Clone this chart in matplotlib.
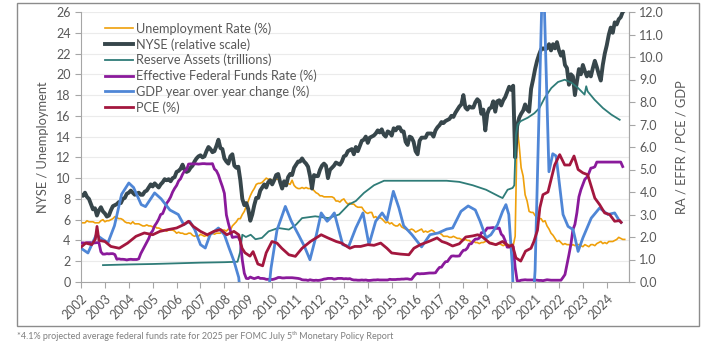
import matplotlib
matplotlib.use("Agg")
import matplotlib.pyplot as plt
from matplotlib.patches import Rectangle
import numpy as np

plt.rcParams['font.family'] = ['Lato', 'DejaVu Sans']

# ---- data -------------------------------------------------------------
# monthly, starting Jan 2002
unemployment = [
    5.7, 5.7, 5.7, 5.9, 5.8, 5.8, 5.8, 5.7, 5.7, 5.7, 5.9, 6.0,
    5.8, 5.9, 5.9, 6.0, 6.1, 6.3, 6.2, 6.1, 6.1, 6.0, 5.8, 5.7,
    5.7, 5.6, 5.8, 5.6, 5.6, 5.6, 5.5, 5.4, 5.4, 5.5, 5.4, 5.4,
    5.3, 5.4, 5.2, 5.2, 5.1, 5.0, 5.0, 4.9, 5.0, 5.0, 5.0, 4.9,
    4.7, 4.8, 4.7, 4.7, 4.6, 4.6, 4.7, 4.7, 4.5, 4.4, 4.5, 4.4,
    4.6, 4.5, 4.4, 4.5, 4.4, 4.6, 4.7, 4.6, 4.7, 4.7, 4.7, 5.0,
    5.0, 4.9, 5.1, 5.0, 5.4, 5.6, 5.8, 6.1, 6.1, 6.5, 6.8, 7.3,
    7.8, 8.3, 8.7, 9.0, 9.4, 9.5, 9.5, 9.6, 9.8, 10.0, 9.9, 9.9,
    9.8, 9.8, 9.9, 9.9, 9.6, 9.4, 9.4, 9.5, 9.5, 9.4, 9.8, 9.3,
    9.1, 9.0, 9.0, 9.1, 9.0, 9.1, 9.0, 9.0, 9.0, 8.8, 8.6, 8.5,
    8.3, 8.3, 8.2, 8.2, 8.2, 8.2, 8.2, 8.1, 7.8, 7.8, 7.7, 7.9,
    8.0, 7.7, 7.5, 7.6, 7.5, 7.5, 7.3, 7.2, 7.2, 7.2, 6.9, 6.7,
    6.6, 6.7, 6.7, 6.2, 6.3, 6.1, 6.2, 6.1, 5.9, 5.7, 5.8, 5.6,
    5.7, 5.5, 5.4, 5.4, 5.6, 5.3, 5.2, 5.1, 5.0, 5.0, 5.1, 5.0,
    4.8, 4.9, 5.0, 5.1, 4.8, 4.9, 4.8, 4.9, 5.0, 4.9, 4.7, 4.7,
    4.7, 4.6, 4.4, 4.4, 4.4, 4.3, 4.3, 4.4, 4.3, 4.2, 4.2, 4.1,
    4.0, 4.1, 4.0, 4.0, 3.8, 4.0, 3.8, 3.8, 3.7, 3.8, 3.8, 3.9,
    4.0, 3.8, 3.8, 3.7, 3.6, 3.6, 3.7, 3.6, 3.5, 3.6, 3.6, 3.6,
    3.5, 3.5, 4.4, 14.8, 13.2, 11.0, 10.2, 8.4, 7.8, 6.8, 6.7, 6.7,
    6.4, 6.2, 6.1, 6.1, 5.8, 5.9, 5.4, 5.1, 4.7, 4.5, 4.2, 3.9,
    4.0, 3.8, 3.6, 3.7, 3.6, 3.6, 3.5, 3.6, 3.5, 3.6, 3.6, 3.5,
    3.4, 3.6, 3.5, 3.4, 3.6, 3.6, 3.5, 3.7, 3.8, 3.9, 3.7, 3.8,
    3.7, 3.9, 3.9, 3.9, 4.0, 4.1, 4.3, 4.2, 4.1, 4.1,
]

nyse = [
    8.4, 8.3, 8.6, 8.2, 8.0, 7.5, 7.0, 7.1, 6.4, 6.9, 7.2, 6.8,
    6.6, 6.3, 6.4, 6.9, 7.3, 7.4, 7.5, 7.7, 7.6, 8.0, 8.1, 8.5,
    8.6, 8.8, 8.6, 8.4, 8.5, 8.6, 8.4, 8.4, 8.7, 8.8, 9.1, 9.4,
    9.2, 9.5, 9.3, 9.1, 9.4, 9.6, 9.9, 9.8, 9.9, 9.7, 10.0, 10.1,
    10.6, 10.7, 10.9, 11.3, 10.8, 10.6, 10.7, 11.0, 11.2, 11.6, 11.9, 12.1,
    12.2, 12.0, 12.1, 12.6, 13.0, 12.8, 12.5, 12.6, 13.1, 13.7, 12.9, 12.8,
    11.9, 11.6, 11.4, 12.1, 12.3, 11.2, 11.0, 11.1, 9.8, 8.0, 7.4, 7.6,
    7.0, 5.9, 6.5, 7.4, 8.1, 8.1, 8.8, 9.1, 9.4, 9.1, 9.6, 9.8,
    9.4, 9.8, 10.3, 10.4, 9.6, 9.0, 9.7, 9.3, 10.1, 10.4, 10.3, 11.0,
    11.3, 11.6, 11.6, 11.9, 11.6, 11.4, 11.1, 10.2, 9.0, 10.3, 10.2, 10.2,
    10.8, 11.2, 11.4, 11.2, 10.0, 10.8, 11.0, 11.2, 11.5, 11.4, 11.3, 11.6,
    12.1, 12.2, 12.6, 12.7, 12.8, 12.3, 13.0, 12.6, 13.1, 13.6, 13.7, 14.0,
    13.4, 13.9, 14.0, 14.1, 14.3, 14.6, 14.4, 14.7, 14.2, 14.0, 14.5, 14.4,
    14.1, 14.8, 14.6, 14.9, 14.9, 14.5, 14.5, 13.5, 13.2, 14.0, 13.9, 13.5,
    12.6, 12.3, 13.6, 13.9, 13.9, 13.9, 14.3, 14.3, 14.3, 14.0, 14.6, 14.9,
    15.1, 15.4, 15.3, 15.5, 15.6, 15.7, 16.0, 15.9, 16.3, 16.6, 16.9, 17.1,
    18.0, 16.8, 16.6, 16.9, 16.8, 16.8, 17.3, 17.6, 17.4, 16.2, 16.6, 14.6,
    16.2, 16.7, 16.8, 17.4, 16.4, 17.4, 17.5, 17.0, 17.5, 17.8, 18.3, 18.8,
    18.5, 18.9, 12.0, 15.0, 15.8, 16.2, 16.5, 17.1, 16.6, 16.4, 18.6, 19.5,
    20.5, 21.3, 21.9, 22.4, 22.5, 22.4, 22.5, 22.9, 22.3, 22.9, 22.5, 23.1,
    22.3, 21.8, 22.2, 20.9, 20.6, 19.0, 20.0, 19.8, 18.0, 19.3, 20.5, 20.0,
    20.9, 20.3, 19.8, 20.2, 19.8, 20.6, 21.3, 20.7, 20.0, 19.4, 20.9, 22.0,
    22.8, 23.8, 24.5, 24.0, 25.0, 24.8, 25.3, 25.5, 26.0, 26.2,
]

effr = [
    1.73, 1.74, 1.73, 1.75, 1.75, 1.75, 1.73, 1.74, 1.75, 1.75, 1.34, 1.24,
    1.24, 1.26, 1.25, 1.26, 1.26, 1.22, 1.01, 1.03, 1.01, 1.01, 1.00, 0.98,
    1.00, 1.01, 1.00, 1.00, 1.00, 1.03, 1.26, 1.43, 1.61, 1.76, 1.93, 2.16,
    2.28, 2.50, 2.63, 2.79, 3.00, 3.04, 3.26, 3.50, 3.62, 3.78, 4.00, 4.16,
    4.29, 4.49, 4.59, 4.79, 4.94, 4.99, 5.24, 5.25, 5.25, 5.25, 5.25, 5.24,
    5.25, 5.26, 5.26, 5.25, 5.25, 5.25, 5.26, 5.02, 4.94, 4.76, 4.49, 4.24,
    3.94, 2.98, 2.61, 2.28, 1.98, 2.00, 2.01, 2.00, 1.81, 0.97, 0.39, 0.16,
    0.15, 0.22, 0.18, 0.15, 0.18, 0.21, 0.16, 0.16, 0.15, 0.12, 0.12, 0.12,
    0.11, 0.13, 0.16, 0.20, 0.20, 0.18, 0.18, 0.19, 0.19, 0.19, 0.19, 0.18,
    0.17, 0.16, 0.14, 0.10, 0.09, 0.09, 0.07, 0.10, 0.08, 0.07, 0.08, 0.07,
    0.08, 0.10, 0.13, 0.14, 0.16, 0.16, 0.16, 0.13, 0.14, 0.16, 0.16, 0.16,
    0.14, 0.15, 0.14, 0.15, 0.11, 0.09, 0.09, 0.08, 0.08, 0.09, 0.08, 0.09,
    0.07, 0.07, 0.08, 0.09, 0.09, 0.10, 0.09, 0.09, 0.09, 0.09, 0.09, 0.12,
    0.11, 0.11, 0.11, 0.12, 0.12, 0.13, 0.13, 0.14, 0.14, 0.12, 0.12, 0.24,
    0.34, 0.38, 0.36, 0.37, 0.37, 0.38, 0.39, 0.40, 0.40, 0.40, 0.41, 0.54,
    0.65, 0.66, 0.79, 0.90, 0.91, 1.04, 1.15, 1.16, 1.15, 1.15, 1.16, 1.30,
    1.41, 1.42, 1.51, 1.69, 1.70, 1.82, 1.91, 1.91, 1.95, 2.19, 2.20, 2.27,
    2.40, 2.40, 2.41, 2.42, 2.39, 2.38, 2.40, 2.13, 2.04, 1.83, 1.55, 1.55,
    1.55, 1.58, 0.65, 0.05, 0.05, 0.08, 0.09, 0.10, 0.09, 0.09, 0.09, 0.09,
    0.09, 0.08, 0.07, 0.07, 0.06, 0.08, 0.10, 0.09, 0.08, 0.08, 0.08, 0.08,
    0.08, 0.08, 0.20, 0.33, 0.77, 1.21, 1.68, 2.33, 2.56, 3.08, 3.78, 4.10,
    4.33, 4.57, 4.65, 4.83, 5.06, 5.08, 5.12, 5.33, 5.33, 5.33, 5.33, 5.33,
    5.33, 5.33, 5.33, 5.33, 5.33, 5.33, 5.33, 5.33, 5.13,
]

# irregularly read series: (decimal year, value)
ra_dates = [2002.92, 2004.0, 2005.0, 2006.0, 2007.0, 2008.0, 2008.55, 2008.65,
            2008.75, 2008.9, 2009.1, 2009.3, 2009.57, 2009.85, 2010.25, 2010.7,
            2011.0, 2011.25, 2011.8, 2012.35, 2012.8, 2013.2, 2013.5, 2013.84,
            2014.26, 2014.68, 2015.1, 2016.0, 2017.3, 2017.83, 2018.39, 2018.95,
            2019.5, 2019.64, 2019.85, 2020.06, 2020.13, 2020.2, 2020.27, 2020.4,
            2020.69, 2020.97, 2021.18, 2021.4, 2021.68, 2021.96, 2022.24, 2022.52,
            2022.8, 2023.07, 2023.14, 2023.2, 2023.49, 2023.84, 2024.19, 2024.54]
ra_vals = [0.75, 0.78, 0.8, 0.83, 0.86, 0.88, 0.9, 1.3,
           2.1, 2.0, 2.1, 1.9, 1.96, 2.25, 2.4, 2.33,
           2.55, 2.84, 2.92, 2.84, 3.0, 3.44, 3.6, 3.96,
           4.3, 4.5, 4.5, 4.5, 4.5, 4.45, 4.3, 4.1,
           3.8, 3.73, 4.1, 4.18, 4.3, 6.55, 7.0, 7.15,
           7.3, 7.5, 7.73, 8.18, 8.62, 8.89, 8.99, 8.86,
           8.62, 8.33, 8.7, 8.47, 8.1, 7.73, 7.44, 7.21]

gdp_dates = [2002.0, 2002.29, 2002.64, 2002.9, 2003.13, 2003.4, 2003.7, 2004.0,
             2004.2, 2004.52, 2004.7, 2005.08, 2005.35, 2005.72, 2006.07, 2006.3,
             2006.55, 2006.76, 2007.0, 2007.2, 2007.4, 2007.75, 2008.0, 2008.2,
             2008.4, 2008.6, 2008.8, 2009.1, 2009.4, 2009.65, 2009.95, 2010.2,
             2010.55, 2010.8, 2011.1, 2011.35, 2011.58, 2011.85, 2012.05, 2012.3,
             2012.45, 2012.6, 2012.95, 2013.2, 2013.5, 2013.8, 2014.05, 2014.33,
             2014.6, 2014.8, 2015.07, 2015.3, 2015.5, 2015.85, 2016.25, 2016.6,
             2016.95, 2017.3, 2017.55, 2017.9, 2018.2, 2018.5, 2018.7, 2018.95,
             2019.15, 2019.43, 2019.64, 2019.78, 2019.9, 2020.05, 2020.3, 2020.6,
             2020.85, 2021.0, 2021.33, 2021.58, 2021.74, 2021.88, 2022.17, 2022.38,
             2022.59, 2022.8, 2023.0, 2023.35, 2023.7, 2024.05, 2024.33, 2024.54,
             2024.6]
gdp_vals = [1.5, 1.29, 2.1, 1.9, 1.75, 2.5, 3.9, 4.4,
            4.2, 3.44, 3.35, 3.96, 3.7, 3.2, 3.0, 2.55,
            2.7, 2.33, 1.66, 1.51, 2.1, 2.4, 2.1, 1.5,
            0.93, 0.2, -2.0, -3.3, -3.9, -2.5, 0.6, 2.3,
            3.36, 2.7, 2.1, 1.58, 0.99, 2.1, 3.07, 2.7,
            2.86, 3.07, 1.66, 1.58, 2.4, 3.07, 1.66, 2.7,
            3.07, 2.75, 4.03, 3.3, 2.5, 2.1, 1.56, 2.1,
            2.18, 2.35, 2.4, 3.14, 3.38, 3.2, 2.7, 1.96,
            2.1, 2.55, 3.14, 3.44, 3.0, 0.7, -8.5, -3.0,
            -2.0, 0.5, 14.5, 4.9, 5.7, 5.6, 3.0, 2.47,
            2.33, 1.36, 1.96, 2.84, 3.29, 3.0, 3.07, 2.7,
            2.65]

pce_dates = [2002.0, 2002.2, 2002.45, 2002.6, 2002.67, 2002.75, 2003.0, 2003.25,
             2003.6, 2003.95, 2004.3, 2004.65, 2005.0, 2005.3, 2005.65, 2006.0,
             2006.3, 2006.5, 2006.7, 2007.0, 2007.28, 2007.56, 2007.84, 2008.1,
             2008.4, 2008.6, 2008.74, 2008.86, 2009.07, 2009.2, 2009.4, 2009.6,
             2009.75, 2009.99, 2010.2, 2010.4, 2010.7, 2010.97, 2011.25, 2011.6,
             2012.05, 2012.33, 2012.68, 2012.9, 2013.25, 2013.45, 2013.7, 2014.0,
             2014.26, 2014.54, 2014.8, 2015.0, 2015.37, 2015.72, 2015.93, 2016.2,
             2016.55, 2016.9, 2017.1, 2017.3, 2017.55, 2017.83, 2018.1, 2018.4,
             2018.6, 2018.8, 2019.1, 2019.36, 2019.64, 2019.92, 2020.05, 2020.2,
             2020.4, 2020.6, 2020.83, 2020.95, 2021.1, 2021.2, 2021.33, 2021.54,
             2021.82, 2022.03, 2022.24, 2022.45, 2022.63, 2022.8, 2023.0, 2023.2,
             2023.5, 2023.7, 2023.91, 2024.12, 2024.33, 2024.54, 2024.6]
pce_vals = [1.55, 1.73, 1.66, 1.9, 2.47, 1.85, 1.8, 1.58,
            1.5, 1.73, 2.03, 2.18, 2.1, 2.25, 2.33, 2.4,
            2.55, 2.7, 2.47, 2.25, 2.1, 2.25, 2.33, 2.1,
            2.25, 2.1, 1.5, 1.3, 1.15, 1.35, 0.8, 0.72,
            1.3, 1.8, 1.73, 1.5, 1.21, 1.14, 1.5, 1.8,
            2.1, 1.96, 1.8, 1.73, 1.5, 1.58, 1.58, 1.66,
            1.63, 1.73, 1.5, 1.29, 1.24, 1.21, 1.5, 1.66,
            1.8, 1.96, 1.8, 1.73, 1.6, 1.7, 2.0, 2.05,
            2.1, 2.0, 1.73, 1.66, 1.8, 1.58, 1.65, 1.07,
            0.93, 1.37, 1.5, 1.8, 2.3, 3.3, 3.88, 4.0,
            5.2, 5.66, 5.2, 5.2, 5.6, 5.0, 4.85, 4.77,
            3.73, 3.44, 3.07, 3.0, 2.7, 2.73, 2.65]

years = list(range(2002, 2025))

c_unemp = '#EFA00B'
c_nyse = '#37464B'
c_ra = '#2F7C78'
c_effr = '#8A1A9B'
c_gdp = '#4F86D6'
c_pce = '#A3173E'
txt = '#595959'
spine = '#A6A6A6'

# ---- figure -----------------------------------------------------------
fig = plt.figure(figsize=(7.18, 3.42), dpi=100)
ax = fig.add_axes([81 / 718, 1 - 282 / 342, 548 / 718, 270 / 342])
ax2 = ax.twinx()

t_month = lambda n: 2002 + np.arange(n) / 12.0

h1, = ax.plot(t_month(len(unemployment)), unemployment, color=c_unemp, lw=1.2,
              label='Unemployment Rate (%)')
h2, = ax.plot(t_month(len(nyse)), nyse, color=c_nyse, lw=2.8,
              label='NYSE (relative scale)')
h3, = ax2.plot(ra_dates, ra_vals, color=c_ra, lw=1.3,
               label='Reserve Assets (trillions)')
h4, = ax2.plot(t_month(len(effr)), effr, color=c_effr, lw=2.0,
               label='Effective Federal Funds Rate (%)')
h5, = ax2.plot(gdp_dates, gdp_vals, color=c_gdp, lw=2.0,
               label='GDP year over year change (%)')
h6, = ax2.plot(pce_dates, pce_vals, color=c_pce, lw=2.0, label='PCE (%)')

ax.set_xlim(2002, 2024.93)
ax.set_ylim(0, 26)
ax2.set_ylim(0, 12)
ax.set_yticks(range(0, 27, 2))
ax2.set_yticks(range(0, 13))
ax2.set_yticklabels([f'{v:.1f}' for v in range(0, 13)])
ax.set_xticks(years)
ax.set_xticklabels([str(y) for y in years], rotation=45, ha='right',
                   rotation_mode='anchor')

ax.grid(axis='y', color='#EBEBEB', lw=0.8)
ax.set_axisbelow(True)

for a in (ax, ax2):
    a.spines['top'].set_visible(False)
    for s in ('left', 'right', 'bottom'):
        a.spines[s].set_color(spine)
        a.spines[s].set_linewidth(0.8)
    a.tick_params(colors=txt, labelsize=9, length=4, width=0.8)
    a.tick_params(axis='both', color=spine)
ax2.spines['left'].set_visible(False)
ax2.spines['bottom'].set_visible(False)

ax.set_ylabel('NYSE / Unemployment', color=txt, fontsize=9.3, labelpad=5)
ax2.set_ylabel('RA / EFFR / PCE / GDP', color=txt, fontsize=9.3, labelpad=8)

leg = ax2.legend(handles=[h1, h2, h3, h4, h5, h6], loc='upper left',
                 bbox_to_anchor=(0.03, 0.99), frameon=False, fontsize=9.2,
                 handlelength=2.2, handletextpad=0.2, labelspacing=0.25,
                 borderaxespad=0.2)
for t in leg.get_texts():
    t.set_color(txt)

fig.patches.append(Rectangle((17 / 718, 1 - 326 / 342), 682 / 718, 323 / 342,
                             transform=fig.transFigure, fill=False,
                             edgecolor='#8C8C8C', lw=1.0))
fig.text(17 / 718, 1 - 336 / 342,
         '*4.1% projected average federal funds rate for 2025 per FOMC July 5\u1d57\u02b0 Monetary Policy Report',
         fontsize=6.5, color='#7F7F7F', va='center', ha='left',
         family=['Lato', 'DejaVu Sans'])

fig.savefig('out.png', dpi=100)
